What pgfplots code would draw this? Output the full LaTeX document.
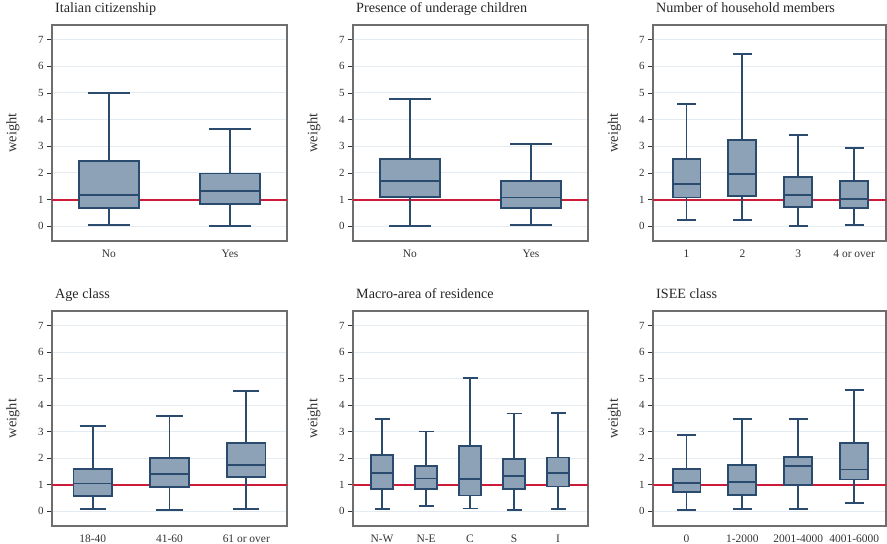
\documentclass[border=0pt]{standalone}
\usepackage{fontspec}
\setmainfont{Liberation Serif}
\usepackage{pgfplots}
\pgfplotsset{compat=1.18}
\usepgfplotslibrary{statistics}
\definecolor{boxfill}{HTML}{8DA2B7}
\definecolor{boxedge}{HTML}{2A4A6E}
\definecolor{redl}{HTML}{CC1C3A}
\definecolor{gridc}{HTML}{E4ECF1}
\definecolor{framec}{HTML}{6E6E6E}
\definecolor{tickc}{HTML}{333333}
\pgfplotsset{
  panel/.style={
    scale only axis, width=235bp, height=216bp,
    anchor=north west,
    ymin=-0.55, ymax=7.55,
    ytick={0,1,2,3,4,5,6,7},
    ymajorgrids, grid style={draw=gridc, line width=1bp},
    axis line style={draw=framec, line width=1.3bp},
    major tick length=5bp,
    ytick style={draw=tickc, line width=0.8bp},
    xtick style={draw=none},
    tick align=outside, ytick pos=left,
    ylabel=weight,
    ylabel style={at={(axis description cs:-0.166,0.5)}, anchor=center, font=\fontsize{14.5}{16}\selectfont, text=tickc},
    title style={at={(axis description cs:0,1)}, anchor=base west, inner sep=0pt, xshift=3bp, yshift=7bp, font=\fontsize{14.2}{16}\selectfont, text=black!85},
    yticklabel style={font=\fontsize{11}{12}\selectfont, text=tickc},
    xticklabel style={font=\fontsize{11.5}{13}\selectfont, text=tickc, yshift=0bp},
    /pgf/number format/assume math mode=true,
    boxplot/draw direction=y,
    boxplot/box extend=0.5, boxplot/whisker extend=0.34,
  },
  bstyle/.style={draw=boxedge, fill=boxfill, line width=1.9bp, solid, mark=none},
  redline/.style={draw=redl, line width=1.8bp, mark=none},
}
\newcommand{\bx}[6]{\addplot[bstyle, boxplot prepared={draw position=#1, lower whisker=#2, lower quartile=#3, median=#4, upper quartile=#5, upper whisker=#6}] coordinates {};}
\begin{document}
\begin{tikzpicture}
\useasboundingbox (0,0) rectangle (887bp,-544bp);
% Panel 1
\begin{axis}[panel, at={(52bp,-25bp)}, title={Italian citizenship},
  xmin=0.53, xmax=2.47, xtick={1,2}, xticklabels={No,Yes}]
\addplot[redline] coordinates {(0,1) (10,1)};
\bx{1}{0.06}{0.69}{1.16}{2.44}{5.01}
\bx{2}{0.01}{0.85}{1.34}{1.98}{3.66}
\end{axis}
% Panel 2
\begin{axis}[panel, at={(353bp,-25bp)}, title={Presence of underage children},
  xmin=0.53, xmax=2.47, xtick={1,2}, xticklabels={No,Yes}]
\addplot[redline] coordinates {(0,1) (10,1)};
\bx{1}{0.01}{1.10}{1.69}{2.54}{4.76}
\bx{2}{0.06}{0.68}{1.08}{1.69}{3.10}
\end{axis}
% Panel 3
\begin{axis}[panel, at={(653bp,-25bp)}, width=233bp, title={Number of household members},
  xmin=0.40, xmax=4.57, xtick={1,2,3,4}, xticklabels={1,2,3,4 or over}]
\addplot[redline] coordinates {(0,1) (10,1)};
\bx{1}{0.25}{1.08}{1.60}{2.54}{4.58}
\bx{2}{0.23}{1.13}{1.96}{3.23}{6.46}
\bx{3}{0.01}{0.71}{1.16}{1.85}{3.44}
\bx{4}{0.06}{0.68}{1.03}{1.69}{2.93}
\end{axis}
% Panel 4
\begin{axis}[panel, at={(52bp,-311bp)}, height=215bp, title={Age class},
  xmin=0.47, xmax=3.53, xtick={1,2,3}, xticklabels={18-40,41-60,61 or over}]
\addplot[redline] coordinates {(0,1) (10,1)};
\bx{1}{0.09}{0.59}{1.05}{1.61}{3.23}
\bx{2}{0.04}{0.93}{1.40}{2.01}{3.61}
\bx{3}{0.09}{1.30}{1.76}{2.58}{4.55}
\end{axis}
% Panel 5
\begin{axis}[panel, at={(353bp,-311bp)}, height=215bp, title={Macro-area of residence},
  xmin=0.34, xmax=5.68, xtick={1,2,3,4,5}, xticklabels={N-W,N-E,C,S,I}]
\addplot[redline] coordinates {(0,1) (10,1)};
\bx{1}{0.09}{0.85}{1.43}{2.11}{3.49}
\bx{2}{0.19}{0.83}{1.24}{1.70}{3.01}
\bx{3}{0.11}{0.60}{1.21}{2.45}{5.01}
\bx{4}{0.04}{0.85}{1.33}{1.99}{3.69}
\bx{5}{0.10}{0.94}{1.43}{2.03}{3.71}
\end{axis}
% Panel 6
\begin{axis}[panel, at={(653bp,-311bp)}, width=233bp, height=215bp, title={ISEE class},
  xmin=0.40, xmax=4.57, xtick={1,2,3,4}, xticklabels={0,1-2000,2001-4000,4001-6000}]
\addplot[redline] coordinates {(0,1) (10,1)};
\bx{1}{0.04}{0.73}{1.08}{1.59}{2.89}
\bx{2}{0.09}{0.63}{1.10}{1.76}{3.49}
\bx{3}{0.09}{0.99}{1.70}{2.06}{3.49}
\bx{4}{0.33}{1.20}{1.58}{2.58}{4.58}
\end{axis}
\end{tikzpicture}
\end{document}
